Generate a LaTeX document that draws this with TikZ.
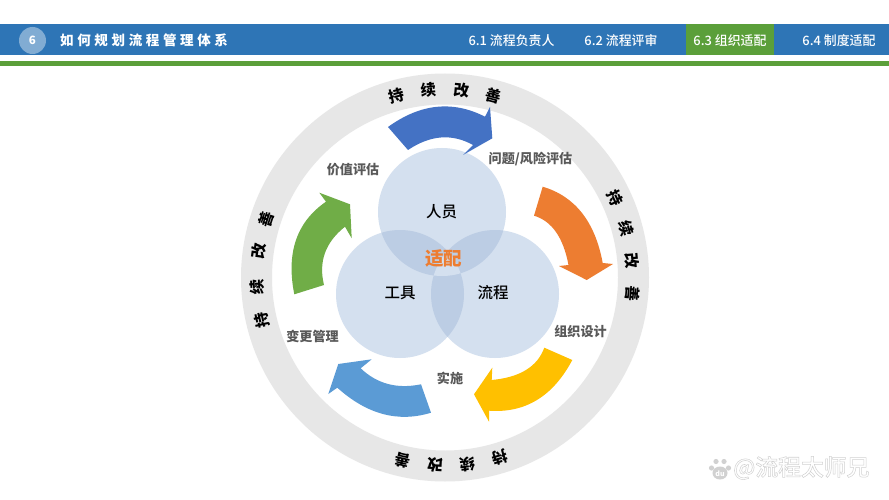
\documentclass[tikz,border=0pt]{standalone}
\usepackage{fontspec}
\newfontfamily\cjk{Noto Sans CJK SC}
\newfontfamily\cjkm{Noto Sans CJK SC Medium}
\definecolor{barblue}{HTML}{2E75B6}
\definecolor{bargreen}{HTML}{5B9F3A}
\definecolor{ringgray}{HTML}{E7E7E7}
\definecolor{lblgray}{HTML}{595959}
\definecolor{ablue}{HTML}{4472C4}
\definecolor{aorange}{HTML}{ED7D31}
\definecolor{ayellow}{HTML}{FFC000}
\definecolor{alblue}{HTML}{5B9BD5}
\definecolor{agreen}{HTML}{70AD47}
\definecolor{vennlight}{HTML}{D4E0EF}
\definecolor{venndark}{HTML}{BCCDE4}
\tikzset{
  fs/.style={font=\cjk\bfseries\fontsize{#1}{#1}\selectfont, inner sep=0pt},
  fm/.style={font=\cjkm\fontsize{#1}{#1}\selectfont, inner sep=0pt},
  tabtxt/.style={fm=12.9, text=white},
  steplbl/.style={fs=13.1, text=lblgray},
  venn/.style={fm=15.5, text=black},
  ringtxt/.style={fs=15.5, text=black},
  wm/.style={fm=22.8, text=white}
}
\begin{document}
\begin{tikzpicture}[x=1pt,y=-1pt]
\useasboundingbox (0,0) rectangle (889,500);
\fill[white] (0,0) rectangle (889,500);
% header
\fill[barblue] (0,24) rectangle (889,55);
\fill[bargreen] (0,61) rectangle (889,65.7);
\fill[bargreen] (685.7,24) rectangle (774.3,55);
\fill[white, fill opacity=0.4] (32.5,40.5) circle[radius=13.5pt];
\node[fs=11.5, text=white] (num) at (32.5,40.5) {6};
\node[fs=13.5, text=white, anchor=west] (title) at (60,40.5) {\addfontfeature{LetterSpace=27}如何规划流程管理体系};
\node[tabtxt] (t1) at (511.5,40.5) {6.1 流程负责人};
\node[tabtxt] (t2) at (621,40.5) {6.2 流程评审};
\node[tabtxt] (t3) at (730,40.5) {6.3 组织适配};
\node[tabtxt] (t4) at (839,40.5) {6.4 制度适配};
% ring
\fill[ringgray, even odd rule] (445,277.5) circle[radius=204pt] (445,277.5) circle[radius=173pt];
\foreach \a/\c/\n in {-15/持/a1,-5/续/a2,5/改/a3,15/善/a4,
                      65/持/b1,75/续/b2,85/改/b3,95/善/b4,
                      163/持/c1,173/续/c2,183/改/c3,193/善/c4,
                      257/持/d1,267/续/d2,278/改/d3,288/善/d4}{
  \node[ringtxt, rotate=-\a] (r\n) at ({445+188*sin(\a)},{277.5-188*cos(\a)}) {\c};
}
% venn
\def\cA{(442,212) circle[radius=64pt]}
\def\cB{(400,294) circle[radius=64pt]}
\def\cC{(495,294) circle[radius=64pt]}
\fill[vennlight] \cA;
\fill[vennlight] \cB;
\fill[vennlight] \cC;
\begin{scope}\clip \cA; \fill[venndark] \cB; \fill[venndark] \cC;\end{scope}
\begin{scope}\clip \cB; \fill[venndark] \cC;\end{scope}
\begin{scope}\clip \cA; \clip \cB; \fill[vennlight] \cC;\end{scope}
\node[venn] (people) at (441.5,212) {人员};
\node[venn] (tools) at (400,293) {工具};
\node[venn] (process) at (493,293) {流程};
\node[fs=18.5, text=aorange] (fit) at (443.5,258) {适配};
% arrows
\fill[ablue] (388,127) .. controls (421,103.1) and (453.3,100.5) .. (485,116.7)
  -- (490,107) -- (492.3,138.3) -- (463,155) -- (473,145)
  .. controls (452,133.3) and (430.3,135) .. (408,150) -- cycle;
\fill[aorange] (542.7,186.7) .. controls (575.1,196.3) and (595.1,221.8) .. (602.7,263)
  -- (613,264) -- (586.7,280) -- (559,266) -- (568.5,265)
  .. controls (563.3,237.4) and (551.8,221) .. (534,215.7) -- cycle;
\fill[ayellow] (572.3,360) .. controls (553,396.4) and (525.2,413.3) .. (489,410.7)
  -- (489,421.7) -- (474,394.3) -- (492.3,367.7) -- (491.7,380)
  .. controls (519.9,377.4) and (537.4,366.7) .. (544.3,347.7) -- cycle;
\fill[alblue] (431,412.7) .. controls (398.2,422.8) and (367,414.4) .. (337.3,387.7)
  -- (328.3,394) -- (338.3,364) -- (371.7,359.3) -- (360.7,368.3)
  .. controls (377,383.9) and (397.1,389.2) .. (421,384.3) -- cycle;
\fill[agreen] (294.3,294.3) .. controls (286,252.8) and (296.6,221.9) .. (326,201.7)
  -- (319.3,192.7) -- (350,204.3) -- (351.7,238.3) -- (345,226.7)
  .. controls (325.3,242.3) and (318.3,261.8) .. (324,285) -- cycle;
% step labels
\node[steplbl] (s1) at (353,170) {价值评估};
\node[steplbl] (s2) at (530.5,159) {问题/风险评估};
\node[steplbl] (s3) at (580.5,332) {组织设计};
\node[steplbl] (s4) at (450,378) {实施};
\node[steplbl] (s5) at (312.5,336) {变更管理};
% watermark
\fill[black!18] (720,473) ellipse[x radius=7.5pt,y radius=6.5pt];
\foreach \x/\y/\n in {711.5/468/p1,716/461.5/p2,724/461.5/p3,728.5/468/p4}{
  \fill[black!18] (\x,\y) circle[radius=2.6pt];
}
\node[fs=7, text=white] (du) at (720,473.5) {du};
\node[wm, anchor=west] (mark) at (733,468) {\special{pdf:code q 1 Tr 0.82 G 0.5 w}@流程太师兄\special{pdf:code Q}};
\end{tikzpicture}
\end{document}
